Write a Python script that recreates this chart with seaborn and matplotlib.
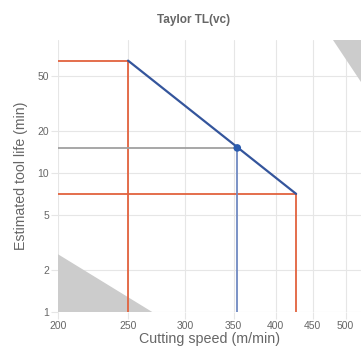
import matplotlib
matplotlib.use("Agg")
import matplotlib.pyplot as plt
import seaborn as sns
import pandas as pd

sns.set_theme(style="white")
plt.rcParams['font.family'] = ['Liberation Sans', 'DejaVu Sans']

# data
taylor_v = [250, 427]
taylor_t = [64, 7.06]
op_v = [354]
op_t = [15.1]
x_ticks = [200, 250, 300, 350, 400, 450, 500]
y_ticks = [1, 2, 5, 10, 20, 50]
x_lim = [200, 525]
y_lim = [1, 90]
low_tri_v = [200, 200, 270]
low_tri_t = [1, 2.6, 1]
up_tri_v = [480, 525, 525]
up_tri_t = [90, 90, 45]

grid_c = "#e6e6e6"
orange = "#e2623e"
blue = "#34559c"
lblue = "#7089c2"
gray = "#a0a0a0"
txt = "#666666"

fig = plt.figure(figsize=(3.61, 3.56), dpi=100)
ax = fig.add_axes([0.1607, 0.1236, 0.8393, 0.764])
ax.set_xscale("log")
ax.set_yscale("log")
ax.set_xlim(*x_lim)
ax.set_ylim(*y_lim)

for v in x_ticks:
    ax.axvline(v, color=grid_c, lw=0.8, zorder=0)
for t in y_ticks:
    ax.axhline(t, color=grid_c, lw=0.8, zorder=0)

ax.fill(low_tri_v, low_tri_t, color="#cccccc", lw=0, zorder=1)
ax.fill(up_tri_v, up_tri_t, color="#cccccc", lw=0, zorder=1)

# limit lines
ax.plot([x_lim[0], taylor_v[0], taylor_v[0]], [taylor_t[0], taylor_t[0], y_lim[0]], color=orange, lw=1.3, zorder=2)
ax.plot([x_lim[0], taylor_v[1], taylor_v[1]], [taylor_t[1], taylor_t[1], y_lim[0]], color=orange, lw=1.3, zorder=2)
# operating point lines
ax.plot([x_lim[0], op_v[0]], [op_t[0], op_t[0]], color=gray, lw=1.3, zorder=2)
ax.plot([op_v[0], op_v[0]], [op_t[0], y_lim[0]], color=lblue, lw=1.3, zorder=2)

df = pd.DataFrame({"v": taylor_v, "t": taylor_t})
sns.lineplot(data=df, x="v", y="t", ax=ax, color=blue, lw=1.6, zorder=3)
dp = pd.DataFrame({"v": op_v, "t": op_t})
sns.scatterplot(data=dp, x="v", y="t", ax=ax, color="#2b5cae", s=30, edgecolor="none", zorder=4)

for s in ax.spines.values():
    s.set_visible(False)

ax.xaxis.set_major_locator(matplotlib.ticker.FixedLocator(x_ticks))
ax.yaxis.set_major_locator(matplotlib.ticker.FixedLocator(y_ticks))
ax.xaxis.set_minor_locator(matplotlib.ticker.NullLocator())
ax.yaxis.set_minor_locator(matplotlib.ticker.NullLocator())
ax.set_xticklabels([str(v) for v in x_ticks])
ax.set_yticklabels([str(t) for t in y_ticks])
ax.tick_params(axis="both", length=5, width=0.8, color=grid_c, labelsize=7.5, labelcolor=txt, pad=1.5, bottom=True, left=True)

ax.set_xlabel("Cutting speed (m/min)", fontsize=10.3, color=txt, labelpad=1)
ax.set_ylabel("Estimated tool life (min)", fontsize=10.2, color=txt, labelpad=7)
fig.text(0.535, 0.944, "Taylor TL(vc)", ha="center", va="center", fontsize=8.5, fontweight="bold", color=txt)

fig.savefig("out.png", dpi=100)
